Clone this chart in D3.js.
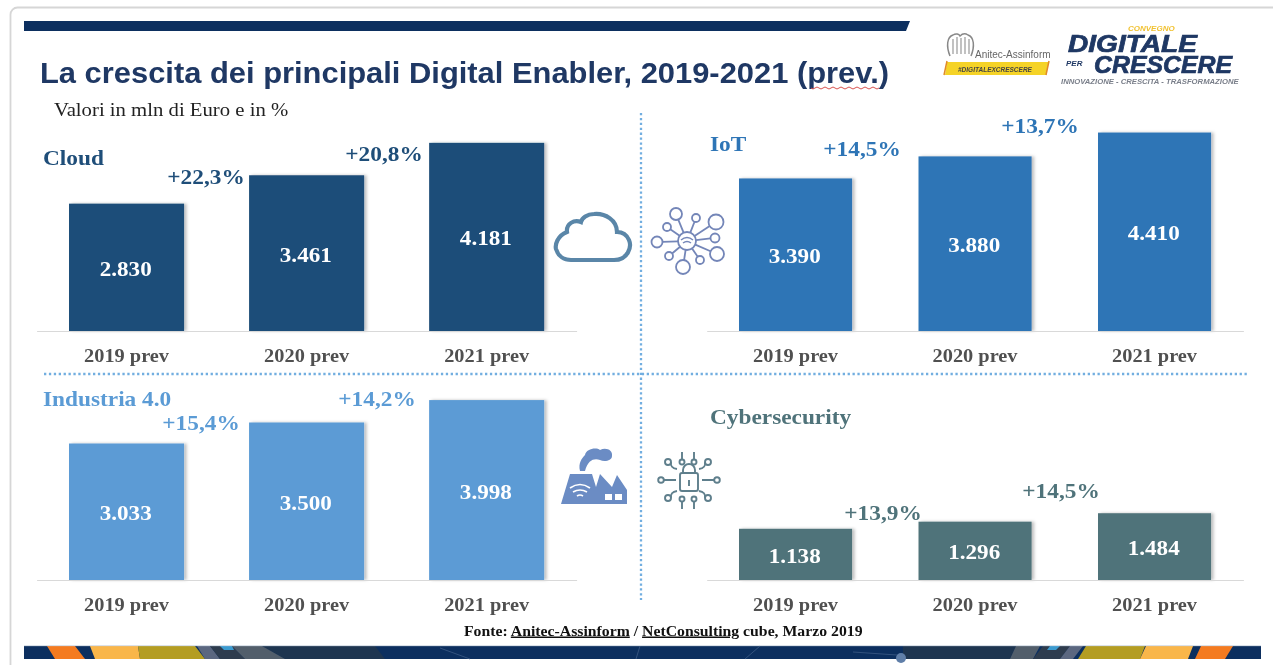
<!DOCTYPE html>
<html><head><meta charset="utf-8">
<script src="https://cdn.jsdelivr.net/npm/d3@7"></script>
<style>html,body{margin:0;background:#fff;overflow:hidden}svg{display:block;filter:blur(.45px)}
.serif{font-family:"Liberation Serif",serif;font-weight:700}
.sans{font-family:"Liberation Sans",sans-serif}</style></head><body><div id="c"></div>
<script>
const categories=["2019 prev","2020 prev","2021 prev"];
const cloudValues=[2830,3461,4181], iotValues=[3390,3880,4410], industriaValues=[3033,3500,3998], cyberValues=[1138,1296,1484];
const cloudGrowth=["+22,3%","+20,8%"], iotGrowth=["+14,5%","+13,7%"], industriaGrowth=["+15,4%","+14,2%"], cyberGrowth=["+13,9%","+14,5%"];
const fmt=v=>d3.format(",")(v).replace(",",".");
const W=1273,H=665;
const svg=d3.select("#c").append("svg").attr("width",W).attr("height",H);
const defs=svg.append("defs");
const sh=defs.append("filter").attr("id","sh").attr("x","-10%").attr("width","125%").attr("y","-5%").attr("height","110%");
sh.append("feDropShadow").attr("dx",2.5).attr("dy",0).attr("stdDeviation",1.5).attr("flood-color","#000").attr("flood-opacity",.25);

// card
svg.append("rect").attr("x",10.5).attr("y",7.5).attr("width",1300).attr("height",700).attr("rx",7).attr("fill","#fff").attr("stroke","#d6d6d6").attr("stroke-width",1.8);
// top band
svg.append("path").attr("d","M24 21H910L906 31H24Z").attr("fill","#0c2f5f");
// bottom band
svg.append("rect").attr("x",24).attr("y",646).attr("width",1237).attr("height",13).attr("fill","#0c2f5f");
const bandShapes=[
 ["#1e3550",[[262,646],[375,646],[385,659],[285,659]]],
 ["#1e3550",[[903,646],[1016,646],[1010,659],[903,659]]],
 ["#f47b20",[[47,646],[75,646],[85,659],[55,659]]],
 ["#f9b64a",[[90,646],[138,646],[140,659],[95,659]]],
 ["#b49d22",[[138,646],[195,646],[205,659],[140,659]]],
 ["#5b6780",[[197,646],[210,646],[220,659],[205,659]]],
 ["#2e3c4e",[[210,646],[232,646],[245,659],[220,659]]],
 ["#3b9bd0",[[220,646],[232,646],[234,650],[224,650]]],
 ["#525e6b",[[232,646],[262,646],[285,659],[245,659]]],
 ["#525e6b",[[1016,646],[1040,646],[1033,659],[1010,659]]],
 ["#2e3c4e",[[1043,646],[1070,646],[1060,659],[1033,659]]],
 ["#3b9bd0",[[1050,646],[1060,646],[1056,650],[1047,650]]],
 ["#5b6780",[[1070,646],[1083,646],[1073,659],[1060,659]]],
 ["#b49d22",[[1086,646],[1145,646],[1140,659],[1078,659]]],
 ["#f9b64a",[[1146,646],[1193,646],[1188,659],[1140,659]]],
 ["#f47b20",[[1201,646],[1233,646],[1225,659],[1195,659]]]
];
svg.selectAll(".st").data(bandShapes).join("path").attr("class","st").attr("d",d=>"M"+d[1].join("L")+"Z").attr("fill",d=>d[0]);
svg.append("line").attr("x1",24).attr("x2",1261).attr("y1",645.7).attr("y2",645.7).attr("stroke","#c5cfdc").attr("stroke-width",.8);
svg.append("circle").attr("cx",901).attr("cy",658).attr("r",5).attr("fill","#5f7ea8");
svg.append("path").attr("d","M853 652L897 655M440 648L470 659M640 646L636 659M760 646L745 659").attr("stroke","#3c5a85").attr("stroke-width",.8).attr("fill","none");

// header
svg.append("text").attr("class","sans stretch").attr("data-s",1.08).attr("x",40).attr("y",83).attr("font-size",28.6).attr("font-weight",700).attr("fill","#1f3864").text("La crescita dei principali Digital Enabler, 2019-2021 (prev.)");
svg.append("path").attr("d","M811 88q2 2 4 0t4 0t4 0t4 0t4 0t4 0t4 0t4 0t4 0t4 0t4 0t4 0t4 0t4 0t4 0t4 0t4 0").attr("fill","none").attr("stroke","#d9534f").attr("stroke-width",1);
svg.append("text").attr("class","stretch").attr("data-s",1.12).attr("x",54).attr("y",116).attr("font-family","Liberation Serif").attr("font-size",18.5).attr("fill","#222").text("Valori in mln di Euro e in %");

// logos
const lg2=svg.append("g");
lg2.append("path").attr("d","M950 56C946 46 947 37 953 35C956 33 959 34 960 36C962 34 965 33 968 35C974 37 975 46 971 56").attr("fill","none").attr("stroke","#888").attr("stroke-width",1.5);
lg2.append("path").attr("d","M953 54V39M957 54V37M961 54V38M965 54V37M969 54V39").attr("stroke","#999").attr("stroke-width",1.2);
lg2.append("text").attr("class","sans").attr("x",975).attr("y",58).attr("font-size",10).attr("fill","#666").text("Anitec-Assinform");
lg2.append("path").attr("d","M947 62H1049L1046 75H945Z").attr("fill","#f5d327");
lg2.append("path").attr("d","M947 61L944 75M1049 61L1046 75").attr("stroke","#e08a2a").attr("stroke-width",1.5);
lg2.append("text").attr("class","sans").attr("x",958).attr("y",72).attr("font-size",6.5).attr("font-weight",700).attr("font-style","italic").attr("fill","#444").text("#DIGITALEXCRESCERE");
const it={"font-style":"italic","font-weight":800,"fill":"#1f3864"};
function logoT(x,y,s,t,extra,st){const e=lg2.append("text").attr("class","sans stretch").attr("data-s",st).attr("x",x).attr("y",y).attr("font-size",s).text(t);Object.entries({...it,...extra}).forEach(([k,v])=>e.attr(k,v));return e;}
logoT(1128,31,8,"CONVEGNO",{fill:"#f1c232"},1.0);
logoT(1068,52,23,"DIGITALE",{stroke:"#1f3864","stroke-width":.7},1.22);
logoT(1066,66,8,"PER",{},1);
logoT(1094,73,23,"CRESCERE",{stroke:"#1f3864","stroke-width":.7},1.08);
logoT(1061,84,7.2,"INNOVAZIONE - CRESCITA - TRASFORMAZIONE",{fill:"#7a7f8a","font-weight":700},1.07);

// dividers
const dot={stroke:"#72aee0","stroke-width":2.3,"stroke-dasharray":"2.3 2.6"};
const v=svg.append("line").attr("x1",641).attr("x2",641).attr("y1",113).attr("y2",600);
const h=svg.append("line").attr("x1",44).attr("x2",1247).attr("y1",374).attr("y2",374);
[v,h].forEach(l=>Object.entries(dot).forEach(([k,val])=>l.attr(k,val)));

// panels
const leftRange=[36.6,576.6], rightRange=[706.7,1243.4];
const panels=[
 {title:"Cloud",values:cloudValues,growth:cloudGrowth,color:"#1f4e79",r:leftRange,pi:.361,base:331,tx:43,ty:165,g:[[206,184],[384,161]]},
 {title:"IoT",values:iotValues,growth:iotGrowth,color:"#2e75b6",r:rightRange,pi:.37,base:331,tx:710,ty:151,g:[[862,156],[1040,133]]},
 {title:"Industria 4.0",values:industriaValues,growth:industriaGrowth,color:"#5b9bd5",r:leftRange,pi:.361,base:580,tx:43,ty:406,g:[[201,430],[377,406]]},
 {title:"Cybersecurity",values:cyberValues,growth:cyberGrowth,color:"#4f737a",r:rightRange,pi:.37,base:580,tx:710,ty:424,g:[[883,520],[1061,498]]}
];
const y0=d3.scaleLinear().domain([0,4500]).range([0,202.5]);
panels.forEach(p=>{
 const x=d3.scaleBand().domain(categories).range(p.r).paddingInner(p.pi).paddingOuter(.18);
 const y=v=>p.base-y0(v);
 const g=svg.append("g");
 g.selectAll("rect").data(p.values).join("rect")
  .attr("x",(d,i)=>x(categories[i])).attr("width",x.bandwidth())
  .attr("y",d=>y(d)).attr("height",d=>y0(d)).attr("fill",p.color).attr("filter","url(#sh)");
 const ax=g.append("g").attr("transform",`translate(0,${p.base})`).call(d3.axisBottom(x).tickSize(0).tickPadding(18));
 ax.select(".domain").attr("stroke","#d9d9d9").attr("stroke-width",1);
 ax.selectAll("text").attr("class","serif stretch").attr("data-s",1.1).attr("font-size",18.5).attr("fill","#505050");
 g.selectAll(".val").data(p.values).join("text").attr("class","serif val stretch").attr("data-s",1.05)
  .attr("x",(d,i)=>x(categories[i])+x.bandwidth()/2-.8).attr("y",d=>(y(d)+p.base)/2+8.5)
  .attr("text-anchor","middle").attr("font-size",22).attr("fill","#fff").text(fmt);
 g.selectAll(".gr").data(p.growth).join("text").attr("class","serif gr stretch").attr("data-s",1.085)
  .attr("x",(d,i)=>p.g[i][0]).attr("y",(d,i)=>p.g[i][1]).attr("text-anchor","middle")
  .attr("font-size",21.5).attr("fill",p.color).text(d=>d);
 g.append("text").attr("class","serif stretch").attr("data-s",1.11).attr("x",p.tx).attr("y",p.ty).attr("font-size",21).attr("fill",p.color).text(p.title);
});

// source
const src=svg.append("text").attr("class","serif stretch").attr("data-s",1.05).attr("x",464).attr("y",635.5).attr("font-size",15).attr("fill","#111");
const uline="text-decoration:underline dotted #d9534f";
src.append("tspan").text("Fonte: ");
src.append("tspan").attr("style",uline).text("Anitec-Assinform");
src.append("tspan").text(" / ");
src.append("tspan").attr("style",uline).text("NetConsulting");
src.append("tspan").text(" cube, Marzo  2019");

// icons
svg.append("path").attr("d","M571 260H614C628 260 632 247 629 240C626 233 620 232 617 232C617 220 605 213 594 214C587 214 582 218 581 222C574 219 566 224 567 232C557 236 555 245 556 249C558 256 564 260 571 260Z").attr("fill","none").attr("stroke","#5a86a8").attr("stroke-width",4.2);
const iot=svg.append("g").attr("fill","none").attr("stroke","#7486b8").attr("stroke-width",1.8);
const cx=687,cy=241;
[[676,214,6],[696,218,4],[716,222,7.5],[667,227,4],[715,238,4.5],[657,242,5.5],[717,254,7],[669,256,4],[700,260,4],[683,267,7]].forEach(d=>{
 const a=Math.atan2(d[1]-cy,d[0]-cx),l=Math.hypot(d[0]-cx,d[1]-cy);
 iot.append("line").attr("x1",cx+9*Math.cos(a)).attr("y1",cy+9*Math.sin(a)).attr("x2",cx+(l-d[2])*Math.cos(a)).attr("y2",cy+(l-d[2])*Math.sin(a));
 iot.append("circle").attr("cx",d[0]).attr("cy",d[1]).attr("r",d[2]);
});
iot.append("circle").attr("cx",cx).attr("cy",cy).attr("r",9);
iot.append("path").attr("d","M681 240q6-5 12 0M683 243q4-3 8 0").attr("stroke-width",1.5);
svg.append("path").attr("d","M561 504L570 474H592L596 487L600 474L612 487L617 475L627 490V504Z").attr("fill","#6b8cc4");
svg.append("path").attr("d","M580 471C578 463 582 458 585 455C586 449 596 447 600 450C606 447 613 450 612 456C612 461 604 462 600 460C594 458 588 460 585 471Z").attr("fill","#6b8cc4");
svg.append("path").attr("d","M570 488q10-7 20 0M573 492q7-4 14 0M577 496q3-2 6 0").attr("fill","none").attr("stroke","#fff").attr("stroke-width",1.7);
svg.append("rect").attr("x",605).attr("y",494).attr("width",7).attr("height",6).attr("fill","#fff");
svg.append("rect").attr("x",615).attr("y",494).attr("width",7).attr("height",6).attr("fill","#fff");
const lock=svg.append("g").attr("fill","none").attr("stroke","#5f7f8c").attr("stroke-width",1.9);
lock.append("rect").attr("x",680).attr("y",473).attr("width",18).attr("height",18).attr("rx",2);
lock.append("path").attr("d","M683 473v-3a6 6 0 0 1 12 0v3M689 480v6");
[682,694].forEach(px=>{
 lock.append("path").attr("d",`M${px} 452V459`);lock.append("circle").attr("cx",px).attr("cy",462).attr("r",2.5);
 lock.append("path").attr("d",`M${px} 509V502`);lock.append("circle").attr("cx",px).attr("cy",499).attr("r",2.5);
});
[[668,462,"M671 462q-1 6 6 7"],[708,462,"M705 462q1 6 -6 7"],[668,498,"M671 498q-1 -6 6 -7"],[708,498,"M705 498q1 -6 -6 -7"]].forEach(d=>{lock.append("circle").attr("cx",d[0]).attr("cy",d[1]).attr("r",3);lock.append("path").attr("d",d[2]);});
lock.append("path").attr("d","M664 480H676M702 480H714");
lock.append("circle").attr("cx",661).attr("cy",480).attr("r",2.8);lock.append("circle").attr("cx",717).attr("cy",480).attr("r",2.8);

// horizontal stretch of the reference's lettering
svg.selectAll(".stretch").each(function(){
 const s=+this.getAttribute("data-s"),l=this.getComputedTextLength();
 this.setAttribute("textLength",l*s);this.setAttribute("lengthAdjust","spacingAndGlyphs");
});
</script></body></html>
